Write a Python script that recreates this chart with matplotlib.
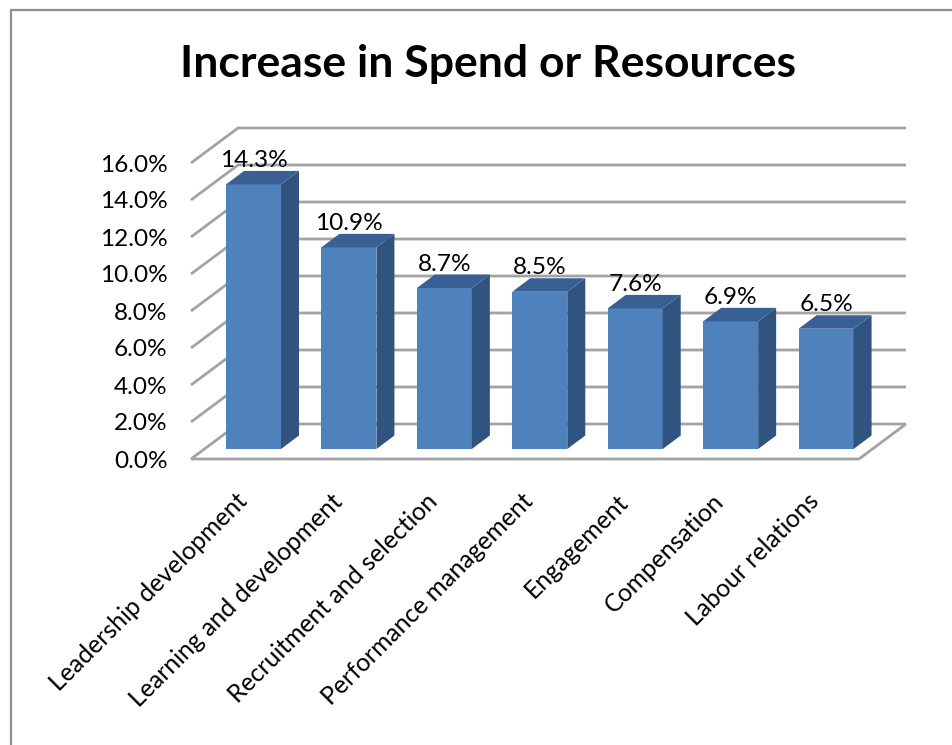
import matplotlib
matplotlib.use("Agg")
import matplotlib.pyplot as plt
from matplotlib.lines import Line2D
from matplotlib.patches import Polygon

# Survey results
categories = ["Leadership development", "Learning and development",
              "Recruitment and selection", "Performance management",
              "Engagement", "Compensation", "Labour relations"]
values = [14.3, 10.9, 8.7, 8.5, 7.6, 6.9, 6.5]
y_ticks = [0, 2, 4, 6, 8, 10, 12, 14, 16]

W, H = 952, 745
plt.rcParams["font.family"] = ["Lato", "DejaVu Sans"]

fig = plt.figure(figsize=(W / 100, H / 100), dpi=100, facecolor="white")

# Outer chart border: open on the right and at the bottom
fig.add_artist(Line2D([10.5 / W, 10.5 / W, 1], [0, 1 - 9.5 / H, 1 - 9.5 / H],
                      color="#8f8f8f", lw=1.6, transform=fig.transFigure))

# Front plane of the pseudo-3D box
left, right, top, bottom = 191, 859, 163, 459
ax = fig.add_axes([left / W, 1 - bottom / H, (right - left) / W, (bottom - top) / H])
ax.set_xlim(0, 7)
ax.set_ylim(0, 16)
ax.patch.set_visible(False)
for s in ax.spines.values():
    s.set_visible(False)

px_x = 7 / (right - left)
px_y = 16 / (bottom - top)

# Depth of the box and of each column, in data units
wall_dx, wall_dy = 47 * px_x, 35 * px_y
bar_dx, bar_dy = 18 * px_x, 13.5 * px_y
bar_w = 55 * px_x
bar_base = 10 * px_y
centers = [i + 62.5 * px_x for i in range(len(values))]

GRID = "#a3a3a3"
FRONT, SIDE, TOP = "#4f81bd", "#30537f", "#386094"
grid_kw = dict(color=GRID, lw=2.0, clip_on=False, solid_capstyle="butt", zorder=1)

# Wall gridlines
for v in y_ticks:
    ax.plot([0, wall_dx, 7 + wall_dx], [v, v + wall_dy, v + wall_dy], **grid_kw)
ax.plot([0, 7, 7 + wall_dx], [0, 0, wall_dy], **grid_kw)

# Columns: front face from bars, with side and top faces added
bars = ax.bar(centers, values, width=bar_w, bottom=bar_base, color=FRONT,
              edgecolor="none", clip_on=False, zorder=3)
for c, v in zip(centers, values):
    xl, xr = c - bar_w / 2, c + bar_w / 2
    y0, y1 = bar_base, bar_base + v
    ax.add_patch(Polygon([(xr, y0), (xr + bar_dx, y0 + bar_dy),
                          (xr + bar_dx, y1 + bar_dy), (xr, y1)],
                         closed=True, fc=SIDE, ec="none", clip_on=False, zorder=3))
    ax.add_patch(Polygon([(xl, y1), (xl + bar_dx, y1 + bar_dy),
                          (xr + bar_dx, y1 + bar_dy), (xr, y1)],
                         closed=True, fc=TOP, ec="none", clip_on=False, zorder=3))
    ax.annotate(f"{v:.1f}%", xy=(c, y1), xytext=(0, 12.6), textcoords="offset points",
                ha="center", va="baseline", fontsize=17.6, color="black", zorder=5,
                annotation_clip=False)

# Axis labels
ax.set_yticks(y_ticks)
ax.set_yticklabels([f"{v:.1f}%" for v in y_ticks], fontsize=17.6, va="center_baseline")
ax.tick_params(axis="y", length=0, pad=17)
ax.set_xticks([i + 0.46 for i in range(len(categories))])
ax.set_xticklabels(categories, rotation=45, ha="right", va="top",
                   rotation_mode="anchor", fontsize=17.8)
ax.tick_params(axis="x", length=0, pad=22)

fig.text(488 / W, 1 - 64 / H, "Increase in Spend or Resources", ha="center", va="center",
         fontsize=32, fontweight="bold", color="black")

fig.savefig("out.png", dpi=100, facecolor="white")
